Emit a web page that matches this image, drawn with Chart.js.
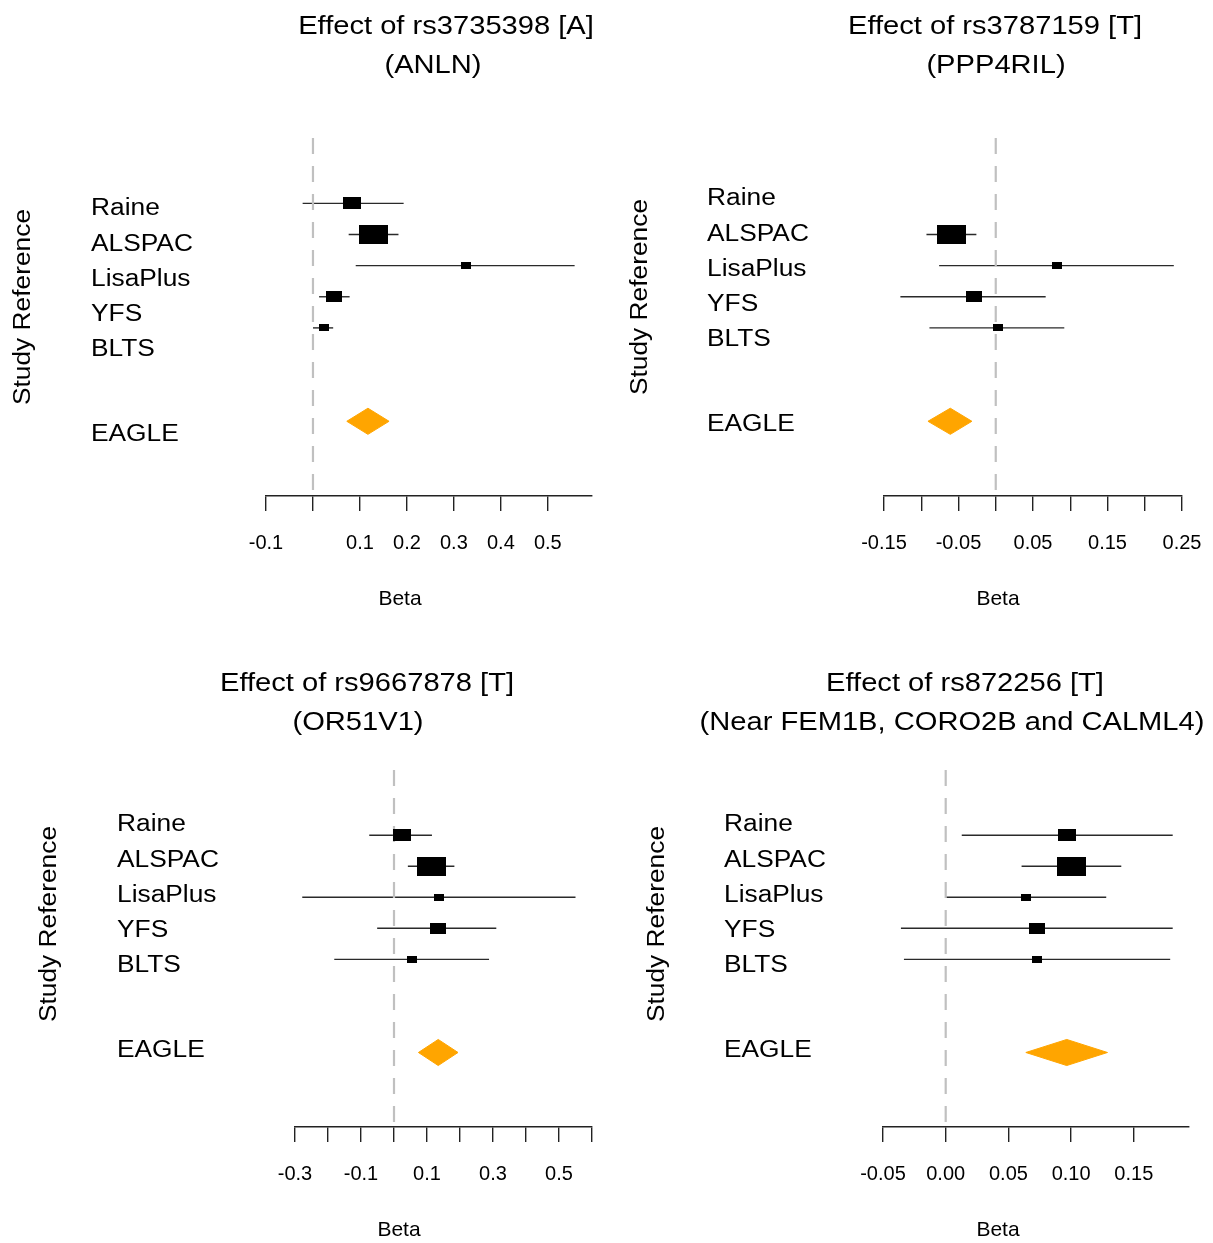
<!DOCTYPE html>
<html>
<head>
<meta charset="utf-8">
<title>EAGLE forest plots</title>
<script src="https://cdn.jsdelivr.net/npm/chart.js@4.4.1/dist/chart.umd.min.js"></script>
<style>
  html, body { margin: 0; padding: 0; background: #fff; }
  #page { position: relative; width: 1213px; height: 1243px; }
  #page canvas { position: absolute; }
</style>
</head>
<body>
<div id="page">
  <canvas id="p1" width="606" height="621" style="left:0;top:0"></canvas>
  <canvas id="p2" width="607" height="621" style="left:606px;top:0"></canvas>
  <canvas id="p3" width="606" height="622" style="left:0;top:621px"></canvas>
  <canvas id="p4" width="607" height="622" style="left:606px;top:621px"></canvas>
</div>
<script>
// cohorts, top to bottom; the pooled meta-analysis row goes last
const studies = ['Raine', 'ALSPAC', 'LisaPlus', 'YFS', 'BLTS'];
const pooledLabel = 'EAGLE';
// relative weight of each cohort (drives the box size)
const studyWeight = [0.62, 1.0, 0.33, 0.55, 0.36];

// rs3735398 [A], ANLN
const anlnBeta  = [0.083, 0.128, 0.325, 0.044, 0.023];
const anlnLower = [-0.022, 0.076, 0.091, 0.013, 0.000];
const anlnUpper = [0.193, 0.182, 0.557, 0.078, 0.043];
const anlnEagle = [0.072, 0.117, 0.162];          // lower, beta, upper
const anlnTicks = [-0.1, 0, 0.1, 0.2, 0.3, 0.4, 0.5];
const anlnTickLabels = ['-0.1', '', '0.1', '0.2', '0.3', '0.4', '0.5'];

// rs3787159 [T], PPP4RIL (no Raine estimate)
const pppBeta  = [null, -0.059, 0.082, -0.029, 0.003];
const pppLower = [null, -0.093, -0.076, -0.128, -0.089];
const pppUpper = [null, -0.026, 0.239, 0.067, 0.092];
const pppEagle = [-0.091, -0.061, -0.032];
const pppTicks = [-0.15, -0.1, -0.05, 0, 0.05, 0.1, 0.15, 0.2, 0.25];
const pppTickLabels = ['-0.15', '', '-0.05', '', '0.05', '', '0.15', '', '0.25'];

// rs9667878 [T], OR51V1
const orBeta  = [0.024, 0.113, 0.136, 0.132, 0.056];
const orLower = [-0.075, 0.042, -0.278, -0.051, -0.181];
const orUpper = [0.115, 0.183, 0.550, 0.310, 0.288];
const orEagle = [0.074, 0.134, 0.194];
const orTicks = [-0.3, -0.2, -0.1, 0, 0.1, 0.2, 0.3, 0.4, 0.5, 0.6];
const orTickLabels = ['-0.3', '', '-0.1', '', '0.1', '', '0.3', '', '0.5', ''];

// rs872256 [T], near FEM1B, CORO2B and CALML4
const femBeta  = [0.0965, 0.1007, 0.064, 0.0729, 0.0729];
const femLower = [0.0128, 0.0605, -0.0002, -0.0357, -0.0333];
const femUpper = [0.181, 0.140, 0.128, 0.181, 0.179];
const femEagle = [0.0639, 0.0965, 0.129];
const femTicks = [-0.05, 0, 0.05, 0.1, 0.15];
const femTickLabels = ['-0.05', '0.00', '0.05', '0.10', '0.15'];

const FONT = "'Liberation Sans', Arial, Helvetica, sans-serif";
Chart.defaults.font.family = FONT;

// row positions on the y scale (reversed, 1 at the top)
const Y_MIN = -1.1, Y_MAX = 10.4;
const POOLED_ROW = 8;
const DIAMOND_HALF = 0.42;
// the name column has its own spacing, a bit looser than the rows
const LABEL_STEP = 35.2;
const POOLED_SLOT = 6.4;

// filled boxes used as point images, sized by weight
const boxes = studyWeight.map(w => {
  const c = document.createElement('canvas');
  c.width = Math.round(29 * w);
  c.height = Math.max(6, Math.round(c.width * 0.66));
  const g = c.getContext('2d');
  g.fillStyle = '#000';
  g.fillRect(0, 0, c.width, c.height);
  return c;
});

const panels = [
  { id: 'p1', title: ['Effect of rs3735398 [A]', '(ANLN)'],
    beta: anlnBeta, lower: anlnLower, upper: anlnUpper, eagle: anlnEagle,
    ticks: anlnTicks, tickLabels: anlnTickLabels, min: -0.1, max: 0.594,
    pad: { left: 266, right: 14, top: 138 }, axisH: 125,
    titleX: [446, 433], titleY: [25, 64], ylabX: 24, ylabY: 307,
    labelX: 91, labelTop: 207, betaX: 400, betaY: 597 },
  { id: 'p2', title: ['Effect of rs3787159 [T]', '(PPP4RIL)'],
    beta: pppBeta, lower: pppLower, upper: pppUpper, eagle: pppEagle,
    ticks: pppTicks, tickLabels: pppTickLabels, min: -0.15, max: 0.25,
    pad: { left: 278, right: 31, top: 138 }, axisH: 125,
    titleX: [389, 390], titleY: [25, 64], ylabX: 35, ylabY: 297,
    labelX: 101, labelTop: 197, betaX: 392, betaY: 597 },
  { id: 'p3', title: ['Effect of rs9667878 [T]', '(OR51V1)'],
    beta: orBeta, lower: orLower, upper: orUpper, eagle: orEagle,
    ticks: orTicks, tickLabels: orTickLabels, min: -0.3, max: 0.6,
    pad: { left: 295, right: 14, top: 149 }, axisH: 116,
    titleX: [367, 358], titleY: [61, 100], ylabX: 50, ylabY: 303,
    labelX: 117, labelTop: 202, betaX: 399, betaY: 607 },
  { id: 'p4', title: ['Effect of rs872256 [T]', '(Near FEM1B, CORO2B and CALML4)'],
    beta: femBeta, lower: femLower, upper: femUpper, eagle: femEagle,
    ticks: femTicks, tickLabels: femTickLabels, min: -0.05, max: 0.194,
    pad: { left: 277, right: 24, top: 149 }, axisH: 116,
    titleX: [359, 346], titleY: [61, 100], ylabX: 52, ylabY: 303,
    labelX: 118, labelTop: 202, betaX: 392, betaY: 607 }
];

// text drawn slightly widened, like the R device output
function stretchText(ctx, text, x, y, size, sx, align, rot) {
  ctx.save();
  ctx.translate(x, y);
  if (rot) ctx.rotate(rot);
  ctx.scale(sx, 1);
  ctx.font = size + 'px ' + FONT;
  ctx.textAlign = align;
  ctx.textBaseline = 'alphabetic';
  ctx.fillStyle = '#000';
  ctx.fillText(text, 0, rot ? size * 0.26 : size * 0.358);
  ctx.restore();
}

function drawPanelText(chart, cfg) {
  const ctx = chart.ctx;
  cfg.title.forEach((t, i) => stretchText(ctx, t, cfg.titleX[i], cfg.titleY[i], 26, 1.12, 'center'));
  stretchText(ctx, 'Study Reference', cfg.ylabX, cfg.ylabY, 23.5, 1.12, 'center', -Math.PI / 2);
  studies.forEach((s, i) => {
    stretchText(ctx, s, cfg.labelX, cfg.labelTop + i * LABEL_STEP, 23.5, 1.12, 'left');
  });
  stretchText(ctx, pooledLabel, cfg.labelX, cfg.labelTop + POOLED_SLOT * LABEL_STEP, 23.5, 1.12, 'left');
  stretchText(ctx, 'Beta', cfg.betaX, cfg.betaY, 21, 1, 'center');
}

function buildDatasets(cfg) {
  const sets = [];
  // null effect reference line
  sets.push({
    data: [{ x: 0, y: Y_MIN }, { x: 0, y: Y_MAX }],
    showLine: true, borderColor: '#c0c0c0', borderWidth: 2.2, borderDash: [16, 12],
    pointRadius: 0, order: 2
  });
  // confidence intervals
  studies.forEach((s, i) => {
    if (cfg.beta[i] == null) return;
    sets.push({
      data: [{ x: cfg.lower[i], y: i + 1 }, { x: cfg.upper[i], y: i + 1 }],
      showLine: true, borderColor: '#2a2a2a', borderWidth: 1.4, pointRadius: 0, order: 3
    });
  });
  // point estimates
  const pts = [], styles = [];
  studies.forEach((s, i) => {
    if (cfg.beta[i] == null) return;
    pts.push({ x: cfg.beta[i], y: i + 1 });
    styles.push(boxes[i]);
  });
  sets.push({ data: pts, pointStyle: styles, pointRadius: 4, showLine: false, order: 0 });
  // pooled estimate diamond
  const [lo, est, hi] = cfg.eagle;
  sets.push({
    data: [
      { x: lo, y: POOLED_ROW }, { x: est, y: POOLED_ROW - DIAMOND_HALF },
      { x: hi, y: POOLED_ROW }, { x: est, y: POOLED_ROW + DIAMOND_HALF },
      { x: lo, y: POOLED_ROW }
    ],
    showLine: true, fill: 'shape', tension: 0,
    backgroundColor: '#ffa500', borderColor: '#ffa500', borderWidth: 1,
    pointRadius: 0, order: 1
  });
  return sets;
}

panels.forEach(cfg => {
  new Chart(document.getElementById(cfg.id), {
    type: 'scatter',
    data: { datasets: buildDatasets(cfg) },
    options: {
      responsive: false,
      devicePixelRatio: 1,
      animation: false,
      events: [],
      layout: { padding: { left: cfg.pad.left, right: cfg.pad.right, top: cfg.pad.top, bottom: 0 } },
      plugins: { legend: { display: false }, tooltip: { enabled: false } },
      scales: {
        x: {
          type: 'linear', position: 'bottom', min: cfg.min, max: cfg.max,
          afterBuildTicks: s => { s.ticks = cfg.ticks.map(v => ({ value: v })); },
          afterFit: s => {
            s.height = cfg.axisH;
            // keep the plot edges where the layout padding puts them
            s.paddingLeft = 0;
            s.paddingRight = 0;
          },
          ticks: {
            autoSkip: false, maxRotation: 0, minRotation: 0, padding: 20,
            color: '#000', font: { size: 20 },
            callback: (v, i) => cfg.tickLabels[i]
          },
          grid: { drawOnChartArea: false, drawTicks: true, tickLength: 15, color: '#222', lineWidth: 1.4 },
          border: { display: true, color: '#222', width: 1.4 }
        },
        y: { type: 'linear', display: false, reverse: true, min: Y_MIN, max: Y_MAX }
      }
    },
    plugins: [{ id: 'forestText', afterDraw: chart => drawPanelText(chart, cfg) }]
  });
});
</script>
</body>
</html>
